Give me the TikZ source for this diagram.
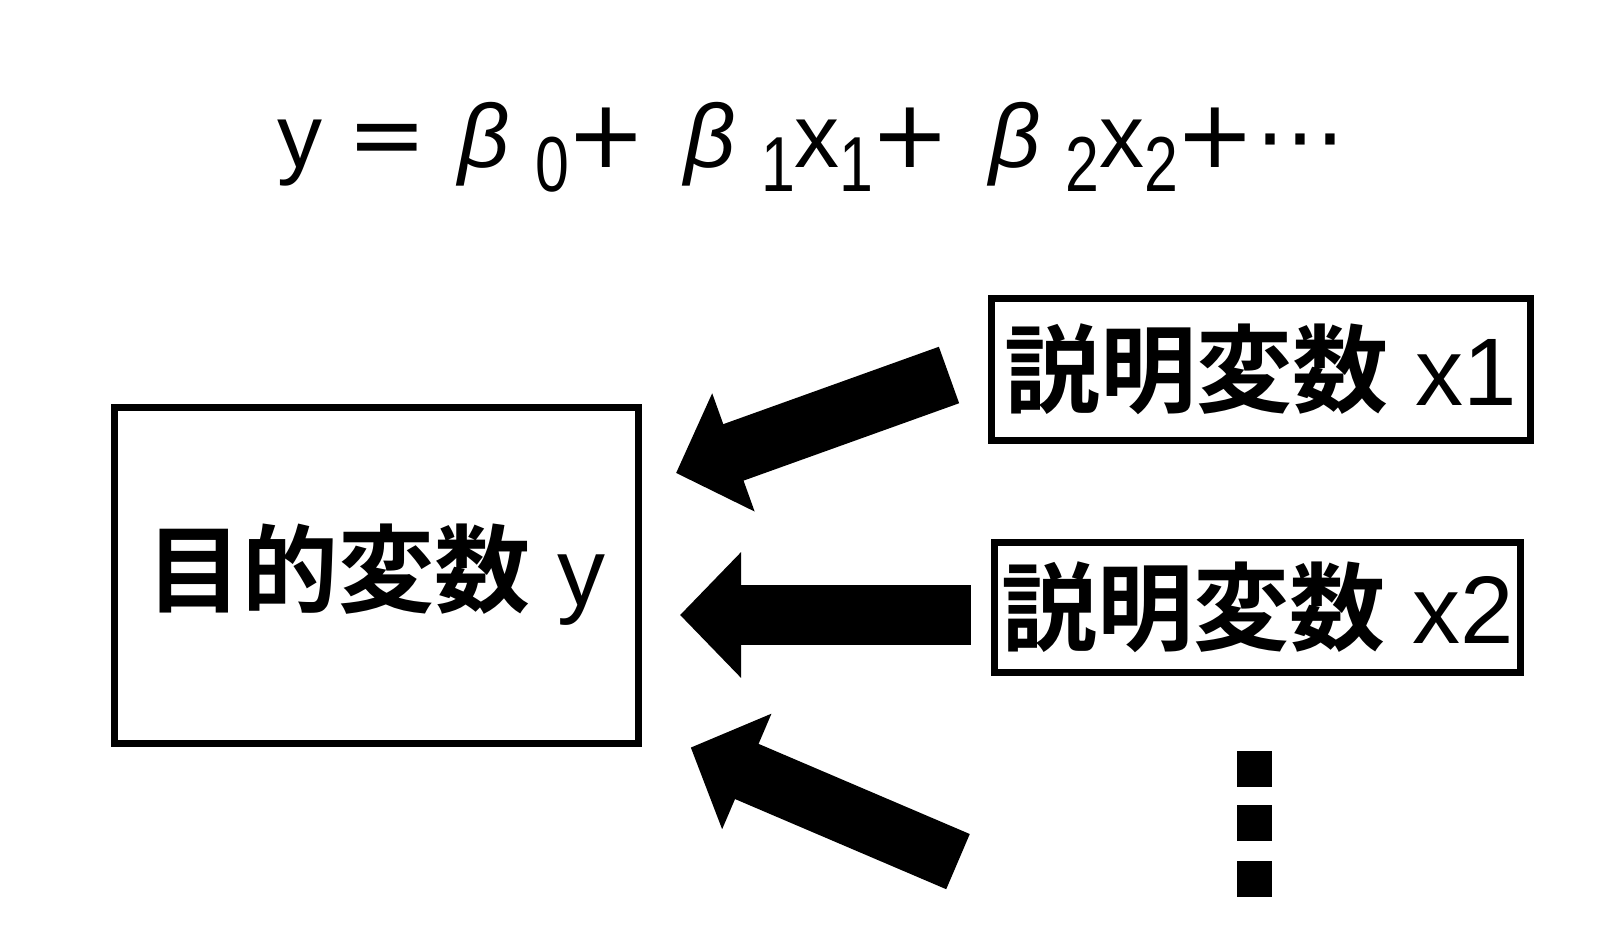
\documentclass[tikz,border=0pt]{standalone}
\usepackage{fontspec}
\setmainfont{Liberation Sans}
\newfontfamily\jpfont{Noto Sans CJK JP Bold}
\newfontfamily\dotsfont{DejaVu Sans}
\usetikzlibrary{arrows.meta}
\newcommand{\subs}[1]{\raisebox{-24pt}{\scalebox{0.78}[1]{\fontsize{78}{80}\selectfont #1}}}
\newcommand{\opr}[1]{{\dotsfont\fontsize{95}{100}\selectfont #1}}
\tikzset{%
    box/.style={draw, line width=7pt, inner sep=0pt, font=\fontsize{96}{100}\selectfont},
    fat/.style={line width=60pt, -{Triangle[length=61pt, width=122pt]}},
    dot/.style={fill, inner sep=0pt, minimum width=35pt, minimum height=36pt},
}
\begin{document}
\begin{tikzpicture}[x=1pt, y=-1pt]
    \useasboundingbox (0,0) rectangle (1619,924);
    \node[anchor=base west, inner sep=0pt, font=\fontsize{90}{95}\selectfont] (eq) at (277,167)
        {y \opr{=} \hspace{7pt}{\itshape β} \subs{0}\kern-3pt\opr{+} \hspace{14pt}{\itshape β} \subs{1}x\subs{1}\kern-3pt\opr{+} \hspace{14pt}{\itshape β} \subs{2}x\subs{2}\kern-3pt\opr{+}{\dotsfont ⋯}};
    \node[box, minimum width=524pt, minimum height=336pt] (y) at (376,575) {{\jpfont 目的変数} y};
    \node[box, minimum width=539pt, minimum height=142pt] (x1) at (1261,369.5) {{\jpfont 説明変数} x1};
    \node[box, minimum width=526pt, minimum height=130pt] (x2) at (1257.5,607.5) {{\jpfont 説明変数} x2};
    \coordinate (t1) at (949,375);   \coordinate (h1) at (676,473);
    \coordinate (t2) at (970.5,615); \coordinate (h2) at (680,615);
    \coordinate (t3) at (958,861.6); \coordinate (h3) at (690.7,747.5);
    \draw [fat](t1)--(h1);
    \draw [fat](t2)--(h2);
    \draw [fat](t3)--(h3);
    \foreach \yy [count=\i] in {769,823,879}
        \node[dot] (d\i) at (1254.5,\yy) {};
\end{tikzpicture}
\end{document}
